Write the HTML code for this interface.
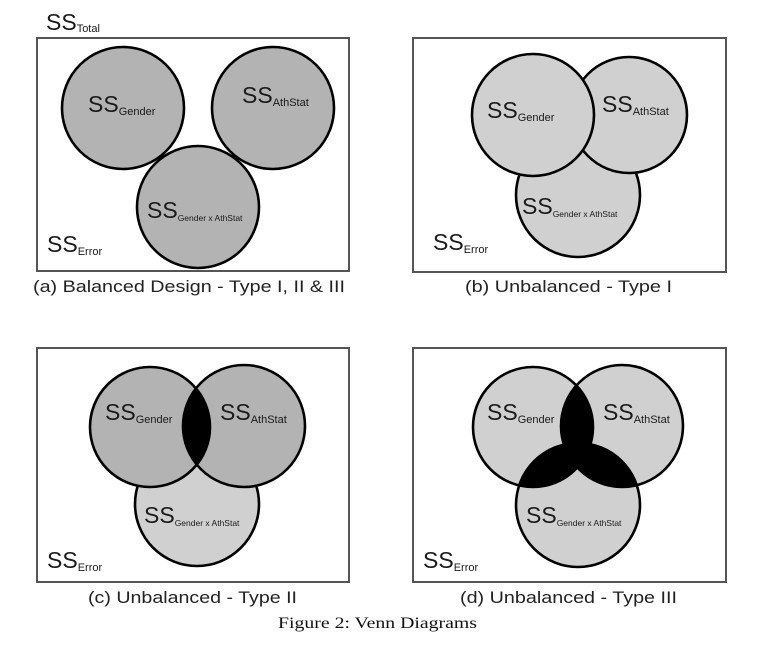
<!DOCTYPE html>
<html><head><meta charset="utf-8"><style>
html,body{margin:0;padding:0;background:#fff;}
svg{display:block;}
text{font-family:"Liberation Sans",sans-serif;fill:#1a1a1a;}
.ss{font-size:23px;}
.sub{font-size:11px;}
.sub2{font-size:8.5px;}
.cap{font-size:16.5px;fill:#222;}
.box{fill:none;stroke:#555;stroke-width:2;}
.c{stroke:#000;stroke-width:2.6;}
.o{fill:none;stroke:#000;stroke-width:2.6;}
</style></head><body>
<svg width="764" height="659" viewBox="0 0 764 659" xmlns="http://www.w3.org/2000/svg">
<defs>
<clipPath id="cG"><circle cx="150" cy="427" r="60"/></clipPath>
<clipPath id="dG"><circle cx="533" cy="427" r="60"/></clipPath>
<clipPath id="dA"><circle cx="622" cy="426" r="61"/></clipPath>
<clipPath id="dB"><circle cx="578" cy="505" r="62"/></clipPath>
</defs>

<!-- (a) -->
<text class="ss" x="46" y="30">SS<tspan class="sub" dy="2">Total</tspan></text>
<rect class="box" x="37" y="38" width="312" height="233"/>
<circle class="c" cx="123" cy="108" r="61" fill="#b3b3b3"/>
<circle class="c" cx="273" cy="108" r="61" fill="#b3b3b3"/>
<circle class="c" cx="198" cy="207" r="61" fill="#b3b3b3"/>
<text class="ss" x="88" y="112">SS<tspan class="sub" dy="3">Gender</tspan></text>
<text class="ss" x="242" y="103">SS<tspan class="sub" dy="3">AthStat</tspan></text>
<text class="ss" x="147" y="218">SS<tspan class="sub2" dy="3">Gender x AthStat</tspan></text>
<text class="ss" x="47" y="252">SS<tspan class="sub" dy="3">Error</tspan></text>
<text class="cap" x="33" y="292" textLength="312" lengthAdjust="spacingAndGlyphs">(a) Balanced Design - Type I, II &amp; III</text>

<!-- (b) -->
<rect class="box" x="413" y="38" width="313" height="234"/>
<circle class="c" cx="578" cy="195" r="62" fill="#d0d0d0"/>
<circle class="c" cx="629" cy="115" r="58" fill="#d0d0d0"/>
<circle class="c" cx="533" cy="115" r="61" fill="#d0d0d0"/>
<text class="ss" x="487" y="118">SS<tspan class="sub" dy="3">Gender</tspan></text>
<text class="ss" x="602" y="112">SS<tspan class="sub" dy="3">AthStat</tspan></text>
<text class="ss" x="522" y="214">SS<tspan class="sub2" dy="3">Gender x AthStat</tspan></text>
<text class="ss" x="433" y="250">SS<tspan class="sub" dy="3">Error</tspan></text>
<text class="cap" x="465" y="292" textLength="207" lengthAdjust="spacingAndGlyphs">(b) Unbalanced - Type I</text>

<!-- (c) -->
<rect class="box" x="37" y="348" width="312" height="234"/>
<circle class="c" cx="197" cy="504" r="62" fill="#d0d0d0"/>
<circle cx="150" cy="427" r="60" fill="#b3b3b3"/>
<circle cx="244" cy="426" r="61" fill="#b3b3b3"/>
<circle cx="244" cy="426" r="61" fill="#000" clip-path="url(#cG)"/>
<circle class="o" cx="150" cy="427" r="60"/>
<circle class="o" cx="244" cy="426" r="61"/>
<text class="ss" x="105" y="420">SS<tspan class="sub" dy="3">Gender</tspan></text>
<text class="ss" x="220" y="420">SS<tspan class="sub" dy="3">AthStat</tspan></text>
<text class="ss" x="144" y="523">SS<tspan class="sub2" dy="3">Gender x AthStat</tspan></text>
<text class="ss" x="47" y="568">SS<tspan class="sub" dy="3">Error</tspan></text>
<text class="cap" x="88" y="603" textLength="209" lengthAdjust="spacingAndGlyphs">(c) Unbalanced - Type II</text>

<!-- (d) -->
<rect class="box" x="413" y="348" width="313" height="234"/>
<circle cx="578" cy="505" r="62" fill="#d0d0d0"/>
<circle cx="533" cy="427" r="60" fill="#d0d0d0"/>
<circle cx="622" cy="426" r="61" fill="#d0d0d0"/>
<circle cx="622" cy="426" r="61" fill="#000" clip-path="url(#dG)"/>
<circle cx="578" cy="505" r="62" fill="#000" clip-path="url(#dG)"/>
<circle cx="578" cy="505" r="62" fill="#000" clip-path="url(#dA)"/>
<circle class="o" cx="578" cy="505" r="62"/>
<circle class="o" cx="533" cy="427" r="60"/>
<circle class="o" cx="622" cy="426" r="61"/>
<text class="ss" x="487" y="420">SS<tspan class="sub" dy="3">Gender</tspan></text>
<text class="ss" x="603" y="420">SS<tspan class="sub" dy="3">AthStat</tspan></text>
<text class="ss" x="526" y="523">SS<tspan class="sub2" dy="3">Gender x AthStat</tspan></text>
<text class="ss" x="423" y="568">SS<tspan class="sub" dy="3">Error</tspan></text>
<text class="cap" x="460" y="603" textLength="217" lengthAdjust="spacingAndGlyphs">(d) Unbalanced - Type III</text>

<text x="278" y="628" textLength="199" lengthAdjust="spacingAndGlyphs" style="font-family:'Liberation Serif',serif;font-size:16px;fill:#111;">Figure 2: Venn Diagrams</text>
</svg>
</body></html>
